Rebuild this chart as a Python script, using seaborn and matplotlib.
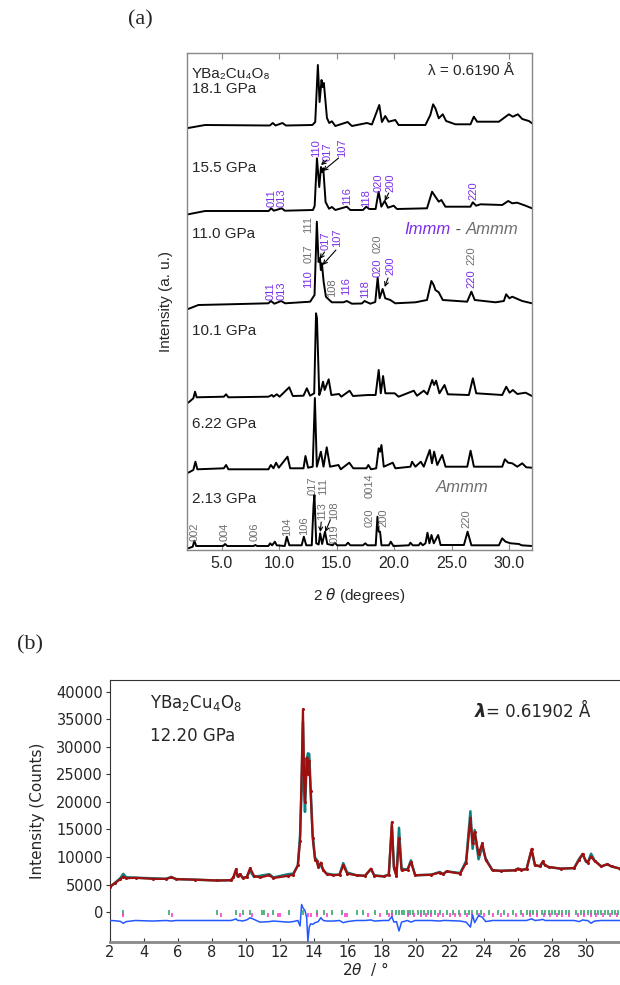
import numpy as np
import pandas as pd
import matplotlib
matplotlib.use("Agg")
import matplotlib.pyplot as plt
import seaborn as sns

# Panel (a): stacked patterns, (2theta, intensity above the pattern's own baseline)

P_181 = [(2.1, -1), (3.57, 2), (9.2, 1.5), (9.46, 4), (9.7, 1.5), (10.3, 4), (10.6, 1.5),
         (12.9, 2), (13.15, 5), (13.38, 62), (13.53, 25), (13.7, 47), (13.79, 40), (13.9, 44),
         (14.17, 9), (14.37, 4), (14.6, 5.7), (14.9, 1), (15.97, 5), (16.34, 1), (17.65, 4),
         (18.08, 2.5), (18.72, 22), (18.95, 5), (19.24, 11), (19.53, 5.3), (20.11, 7), (20.4, 2),
         (22.73, 2), (23.16, 12), (23.4, 22.7), (23.6, 18.7), (23.89, 8.7), (24.24, 12.7),
         (24.53, 6), (25.34, 2.7), (26.65, 2.7), (26.94, 10.3), (27.23, 5.3), (29.12, 5.3),
         (29.99, 12.7), (30.33, 10.3), (30.77, 12.7), (31.15, 8), (31.73, 6), (32.0, 3.7)]

P_155 = [(2.1, -2.3), (3.57, 1), (9.1, 1), (9.32, 3.7), (9.55, 1.3), (10.25, 3.7), (10.5, 1.3),
         (12.95, 2), (13.1, 6), (13.3, 53.7), (13.5, 25), (13.65, 45), (13.75, 40), (13.85, 43.7),
         (14.05, 10), (14.35, 3.3), (14.6, 5), (14.9, 2), (15.9, 5.3), (16.2, 2), (17.3, 2),
         (17.59, 5.3), (17.85, 3), (18.4, 3), (18.66, 20.3), (18.9, 5.3), (19.19, 11), (19.48, 4.3),
         (19.97, 6.3), (20.26, 3), (22.87, 3.7), (23.31, 20.3), (23.6, 15.3), (23.89, 10.3),
         (24.12, 12), (24.47, 5.3), (26.65, 5.3), (26.85, 9.7), (27.14, 6.3), (27.52, 7.7),
         (29.41, 7), (29.93, 11), (30.28, 8.7), (30.71, 9.3), (31.44, 6.3), (32.0, 3.7)]

P_110 = [(2.1, -4), (2.99, 0), (5.6, 0.7), (9.08, 1.7), (9.3, 4), (9.6, 1.3), (10.19, 4), (10.53, 1.7),
         (12.71, 3.3), (13.09, 10), (13.29, 83.3), (13.44, 43), (13.56, 46.7), (13.64, 35),
         (13.73, 41.7), (13.88, 23.3), (14.08, 8.3), (14.37, 5), (14.6, 2.7), (15.6, 2.7), (15.9, 4),
         (16.34, 1.3), (17.2, 1.5), (17.44, 4), (17.94, 1.3), (18.37, 3), (18.58, 27.3), (18.75, 6.7),
         (19.01, 16), (19.24, 6.7), (19.68, 5), (20.11, 1.7), (21.86, 2.7), (22.87, 5), (23.25, 24),
         (23.45, 20), (23.6, 15), (23.89, 12.7), (24.24, 5), (26.36, 3.3), (26.73, 13.3), (27.02, 5),
         (28.83, 2.7), (29.55, 4), (29.75, 10.7), (30.04, 6.7), (30.28, 8.3), (31.15, 4), (32.0, 1.7)]

P_101 = [(2.11, -4.7), (2.55, -0.3), (2.7, 6.3), (2.84, 0.7), (5.2, 1.3), (5.4, 3.7), (5.6, 0.7),
         (9.08, 1.3), (9.38, 3), (9.52, 1.3), (9.81, 3.7), (10.05, 1.3), (10.89, 10.7), (11.2, 2),
         (12.13, 2.3), (12.42, 9.7), (12.7, 2.3), (13.06, 4.7), (13.22, 84.7), (13.3, 80), (13.5, 3),
         (13.65, 8), (13.83, 16.3), (13.97, 8), (14.32, 18.7), (14.55, 3), (15.22, 4), (15.42, 1.3),
         (16.14, 7.3), (16.43, 2), (17.74, 3), (18.4, 3), (18.67, 28), (18.85, 4.7), (19.05, 22),
         (19.25, 4.7), (20.06, 4.7), (20.4, 1.3), (21.72, 7.3), (22.0, 2.3), (22.59, 7.3), (22.9, 3.7),
         (23.32, 18), (23.49, 13), (23.66, 17.3), (23.95, 4.7), (24.39, 13), (24.68, 3.7), (26.51, 3),
         (26.86, 19.7), (27.15, 4.7), (29.41, 3), (29.76, 11.3), (30.05, 5.3), (30.34, 8), (30.72, 4),
         (31.44, 5.3), (32.0, 2)]

P_622 = [(2.11, -2.7), (2.55, 0), (2.73, 8.3), (2.9, 0.7), (5.2, 1.7), (5.4, 5), (5.6, 0.7),
         (9.08, 0.7), (9.29, 5), (9.52, 1.7), (9.75, 7.3), (9.98, 2.3), (10.74, 13.3), (10.97, 1.7),
         (12.13, 1.7), (12.3, 14), (12.53, 2.3), (12.93, 3.3), (13.12, 72), (13.29, 3.3), (13.64, 18.3),
         (13.87, 3.3), (14.15, 22.7), (14.44, 3.3), (15.17, 5), (15.37, 0.7), (16.11, 7.3), (16.46, 1.7),
         (17.6, 1.7), (17.77, 5), (18.0, 0.7), (18.45, 1.7), (18.67, 21.7), (18.79, 18.3), (18.91, 25),
         (19.11, 3.3), (19.89, 7.3), (20.12, 1.7), (21.43, 3.3), (21.57, 8.3), (21.86, 3.3),
         (22.33, 8.3), (22.59, 3.3), (23.11, 20), (23.3, 6.7), (23.49, 18.3), (23.76, 5), (24.19, 15),
         (24.48, 3.3), (26.37, 3.3), (26.66, 19.3), (26.95, 3.3), (29.41, 3.3), (29.64, 10.7),
         (29.93, 7.3), (30.28, 6.7), (30.72, 3.3), (31.15, 6.7), (31.5, 2.7), (32.0, 2.3)]

P_213 = [(2.11, -2.3), (2.5, -0.7), (2.64, 5.3), (2.8, 0), (5.15, 0), (5.31, 2), (5.5, 0),
         (7.8, 0), (7.93, 1), (8.1, 0), (9.08, 0), (9.23, 2.7), (9.4, 0.7), (9.64, 4.3), (9.8, 0.7),
         (10.5, 0), (10.68, 9.3), (10.9, 0.7), (11.97, 0.7), (12.16, 9.3), (12.37, 0.7), (12.85, 0.7),
         (13.0, 40), (13.08, 51), (13.24, 2.7), (13.45, 1.5), (13.58, 12.7), (13.75, 2), (14.0, 14.3),
         (14.2, 2), (14.66, 0.7), (14.86, 3.3), (15.05, 0.7), (15.8, 0.7), (16.0, 3.3), (16.2, 0.7),
         (17.3, 0.7), (17.5, 2.7), (17.7, 0.7), (18.41, 0.7), (18.56, 29.3), (18.67, 14.3),
         (18.79, 14.3), (18.91, 0.7), (19.55, 0.7), (19.72, 4.3), (19.95, 0), (21.29, 0.7),
         (21.43, 3.3), (21.63, 0.7), (22.15, 0.7), (22.3, 3.3), (22.5, 0.7), (22.74, 2.7),
         (22.91, 13.3), (23.08, 2.7), (23.26, 11), (23.46, 2.7), (23.84, 11), (24.05, 1), (26.08, 1),
         (26.4, 14.3), (26.73, 0.7), (29.12, 0.7), (29.41, 7.7), (29.7, 4.3), (30.14, 2.7),
         (30.86, 2), (31.1, 0.7), (32.0, 0)]

PATTERNS = [P_181, P_155, P_110, P_101, P_622, P_213]
PRESSURES = ["18.1 GPa", "15.5 GPa", "11.0 GPa", "10.1 GPa", "6.22 GPa", "2.13 GPa"]

# Panel (b): Rietveld fit at 12.20 GPa
B_TTH = [2.0, 2.3, 2.6, 2.78, 2.95, 3.5, 4.5, 5.3, 5.6, 5.9, 7.0, 8.3, 9.1, 9.25, 9.41, 9.51, 9.65,
         9.8, 10.04, 10.24, 10.47, 10.82, 11.37, 11.61, 12.49, 12.78, 13.05, 13.18, 13.27, 13.35,
         13.42, 13.47, 13.57, 13.64, 13.72, 13.8, 13.92, 14.06, 14.16, 14.25, 14.4, 14.55, 14.75,
         15.14, 15.5, 15.72, 15.95, 16.5, 17.0, 17.35, 17.55, 18.1, 18.4, 18.58, 18.7, 18.85, 19.0,
         19.15, 19.5, 19.7, 19.95, 20.9, 21.4, 21.6, 21.8, 22.6, 22.95, 23.2, 23.33, 23.45, 23.68,
         23.9, 24.1, 24.5, 25.0, 25.8, 26.0, 26.2, 26.5, 26.8, 27.0, 27.3, 27.45, 27.6, 27.8, 28.5,
         29.3, 29.6, 29.8, 30.0, 30.1, 30.3, 30.5, 30.9, 31.25, 31.5, 32.0]
B_OBS = [4600, 5300, 6000, 6450, 6150, 6250, 6050, 6050, 6300, 6000, 5900, 5750, 5800, 6300, 7800,
         6500, 6900, 6200, 6400, 8000, 6600, 6300, 6700, 6200, 6600, 6800, 8500, 13000, 25000, 36800,
         24000, 20000, 28000, 25000, 27500, 22000, 13500, 9500, 9200, 8200, 9000, 7600, 6900,
         6700, 6800, 8500, 7000, 6700, 6600, 7900, 6600, 6500, 6800, 16300, 8000, 6500, 13400,
         7600, 7700, 9100, 6700, 6800, 7200, 6900, 7400, 7000, 9000, 17100, 12500, 14500, 10500,
         12500, 9500, 7600, 7500, 7600, 7900, 7700, 7800, 11500, 8500, 8400, 9200, 8500, 8200, 7900,
         8000, 9500, 10600, 9200, 9000, 10100, 9300, 8300, 8700, 8300, 7900]
B_DIFF = [0, -50, -150, -500, -200, 0, -100, 0, -100, 0, 0, 0, 0, 100, 300, 0, 0, -100, 100, 500,
          200, -300, -200, -100, -300, -200, 0, -1000, 2900, 2300, 2000, 1800, 500, -3800, -1200,
          -600, -700, -400, -300, -200, 500, 0, -100, -100, 0, -400, -200, 0, 0, 100, -100, 0, 0,
          700, -300, -200, -1900, -300, 0, -300, 0, 0, -100, 0, 0, -100, -300, -1200, 1000, -400,
          900, 600, -200, 0, 0, 0, 0, 0, 0, 300, 0, 100, 200, 0, 0, 0, 0, -200, 100, 0, 0, -500,
          -100, 0, 0, 0, 0]

TICKS_GREEN = [2.75, 5.49, 8.27, 9.41, 9.8, 10.24, 10.92, 11.08, 11.61, 12.55, 13.37, 14.2, 14.59,
               15.08, 15.63, 16.51, 16.9, 17.6, 18.3, 18.6, 18.85, 19.0, 19.2, 19.3, 19.5, 19.65,
               19.8, 20.1, 20.3, 20.45, 20.7, 20.9, 21.1, 21.4, 21.8, 22.2, 22.5, 22.9, 23.1, 23.3,
               23.6, 23.85, 24.3, 24.8, 25.2, 25.7, 26.2, 26.5, 26.7, 26.9, 27.1, 27.4, 27.6, 27.8,
               28.0, 28.2, 28.4, 28.6, 28.8, 29.0, 29.4, 29.7, 29.9, 30.1, 30.3, 30.5, 30.7, 30.9,
               31.1, 31.3, 31.5, 31.7, 31.9]
TICKS_MAGENTA = [2.78, 5.63, 8.51, 9.65, 10.33, 11.31, 11.9, 12.0, 13.67, 13.8, 14.2, 14.75, 15.84,
                 15.96, 17.2, 17.9, 18.4, 18.6, 19.5, 19.9, 20.3, 20.6, 20.9, 21.3, 21.6, 22.0,
                 22.3, 22.6, 23.0, 23.3, 23.7, 24.0, 24.5, 25.0, 25.4, 25.9, 26.3, 26.7, 27.1,
                 27.5, 27.9, 28.3, 28.6, 29.0, 29.5, 29.9, 30.3, 30.6, 31.0, 31.4, 31.8]

PURPLE = "#7b2fe6"
GRAY = "#6f6f6f"

sns.set_style("ticks")
plt.rcParams["font.family"] = ["Liberation Sans", "DejaVu Sans"]

fig = plt.figure(figsize=(6.2, 9.85), dpi=100)
ax = fig.add_axes([187 / 620, 1 - 550 / 985, 345 / 620, 497 / 985])
axb = fig.add_axes([110 / 620, 1 - 942 / 985, 510 / 620, 262 / 985])

# ---------- panel (a) ----------
stack_offset = [423, 338, 245, 152, 80, 4]
label_y = [461, 382, 316, 219, 126, 51]
for pts, off, name, ly in zip(PATTERNS, stack_offset, PRESSURES, label_y):
    tth, inten = zip(*pts)
    df = pd.DataFrame({"tth": tth, "I": np.array(inten) + off})
    sns.lineplot(data=df, x="tth", y="I", ax=ax, color="black", lw=1.4,
                 sort=False, estimator=None, legend=False)
    ax.text(2.44, ly, name, fontsize=11, va="center", ha="left")

ax.text(2.44, 476, "YBa₂Cu₄O₈", fontsize=11, va="center", ha="left")
ax.text(30.4, 479, "λ = 0.6190 Å", fontsize=11, va="center", ha="right")

t_am = ax.text(30.83, 320, "Ammm", fontsize=12, style="italic", color=GRAY, ha="right", va="center")
t_dash = ax.annotate(" - ", xy=(0, 0), xycoords=t_am, fontsize=12, color="#444444",
                     ha="right", va="bottom")
ax.annotate("Immm", xy=(0, 0), xycoords=t_dash, fontsize=12, style="italic", color=PURPLE,
            ha="right", va="bottom")
ax.text(28.2, 62.5, "Ammm", fontsize=12, style="italic", color=GRAY, ha="right", va="center")

# hkl labels: (text, 2theta, bottom of label, colour)
hkl = [
    ("011", 9.32, 343, PURPLE), ("013", 10.25, 343, PURPLE), ("110", 13.25, 393, PURPLE),
    ("017", 14.2, 389, PURPLE), ("107", 15.47, 393, PURPLE), ("116", 15.91, 345, PURPLE),
    ("118", 17.59, 343, PURPLE), ("020", 18.7, 358, PURPLE), ("200", 19.68, 358, PURPLE),
    ("220", 26.89, 350, PURPLE),
    ("011", 9.23, 250, PURPLE), ("013", 10.25, 250, PURPLE), ("110", 12.57, 262, PURPLE),
    ("017", 12.57, 287, GRAY), ("111", 12.57, 317, GRAY), ("017", 14.02, 300, PURPLE),
    ("107", 15.04, 303, PURPLE), ("108", 14.6, 253, GRAY), ("116", 15.85, 255, PURPLE),
    ("118", 17.5, 252, PURPLE), ("020", 18.61, 273, PURPLE), ("020", 18.61, 297, GRAY),
    ("200", 19.68, 275, PURPLE), ("220", 26.74, 262, PURPLE), ("220", 26.74, 285, GRAY),
    ("002", 2.64, 9.3, GRAY), ("004", 5.31, 9.3, GRAY), ("006", 7.92, 9.3, GRAY),
    ("104", 10.68, 14, GRAY), ("106", 12.19, 15, GRAY), ("017", 12.92, 55, GRAY),
    ("111", 13.85, 55, GRAY), ("113", 13.73, 30, GRAY), ("108", 14.8, 30, GRAY),
    ("019", 14.8, 7, GRAY), ("0014", 17.88, 52, GRAY), ("020", 17.88, 23, GRAY),
    ("200", 19.1, 23, GRAY), ("220", 26.3, 22, GRAY),
]
for s, x, y, c in hkl:
    ax.text(x, y, s, rotation=90, fontsize=8, color=c, ha="center", va="bottom")

arrows = [((14.17, 390), (13.65, 385)), ((15.18, 392), (13.82, 379)), ((19.54, 357), (19.19, 349)),
          ((13.96, 298), (13.53, 291)), ((14.95, 300), (13.79, 285)), ((19.48, 272), (19.19, 263)),
          ((13.67, 28), (13.59, 18)), ((14.46, 30), (14.02, 18))]
for tail, head in arrows:
    ax.annotate("", xy=head, xytext=tail,
                arrowprops=dict(arrowstyle="->", lw=0.8, color="black",
                                shrinkA=0, shrinkB=0, mutation_scale=7))

ax.set_xlim(2, 32)
ax.set_ylim(0, 497)
ax.set_yticks([])
ax.set_xticks([5, 10, 15, 20, 25, 30])
ax.set_xticklabels(["5.0", "10.0", "15.0", "20.0", "25.0", "30.0"])
ax.tick_params(axis="x", direction="in", top=True, length=4, color="#888888",
               labelsize=11.5, pad=4)
for sp in ax.spines.values():
    sp.set_visible(True)
    sp.set_color("#888888")
    sp.set_linewidth(1)
ax.set_xlabel("2 $\\theta$ (degrees)", fontsize=11, labelpad=11)
ax.set_ylabel("Intensity (a. u.)", fontsize=11, labelpad=10)

fig.text(140 / 620, 1 - 20 / 985, "(a)", family="Liberation Serif", fontsize=16,
         ha="center", va="center")
fig.text(30 / 620, 1 - 645 / 985, "(b)", family="Liberation Serif", fontsize=16,
         ha="center", va="center")

# ---------- panel (b) ----------
obs = np.array(B_OBS, dtype=float)
diff = np.array(B_DIFF, dtype=float)
dfb = pd.DataFrame({"tth": B_TTH, "obs": obs, "calc": obs - diff, "diff": diff - 1500})

sns.lineplot(data=dfb, x="tth", y="calc", ax=axb, color="#0e8080", lw=1.8,
             sort=False, estimator=None, legend=False, zorder=2)
sns.lineplot(data=dfb, x="tth", y="obs", ax=axb, color="#a00f0f", lw=1.6,
             sort=False, estimator=None, legend=False, zorder=3,
             marker="o", markersize=2.2, markeredgewidth=0)
sns.lineplot(data=dfb, x="tth", y="diff", ax=axb, color="#2458ff", lw=1.1,
             sort=False, estimator=None, legend=False, zorder=3)
axb.vlines(TICKS_GREEN, -500, 400, color="#23a05f", lw=1.1, zorder=2)
axb.vlines(TICKS_MAGENTA, -850, -80, color="#ff2fc8", lw=1.1, zorder=2)

axb.set_xlim(2, 32)
axb.set_ylim(-5400, 42100)
axb.set_xticks(range(2, 31, 2))
axb.set_yticks(range(0, 40001, 5000))
axb.tick_params(axis="y", direction="out", length=3, labelsize=10.5, pad=2, color="#333333")
axb.tick_params(axis="x", direction="in", length=3, labelsize=10.5, pad=2, color="#333333")
for lab in axb.get_xticklabels() + axb.get_yticklabels():
    lab.set_family("DejaVu Sans")
axb.spines["right"].set_visible(False)
axb.spines["top"].set_visible(True)
axb.spines["top"].set_color("#333333")
axb.spines["left"].set_color("#333333")
axb.spines["bottom"].set_color("#8a8a8a")
axb.spines["bottom"].set_linewidth(2)
axb.set_xlabel("2$\\theta$  / °", fontsize=11, family="DejaVu Sans", labelpad=0)
axb.set_ylabel("Intensity (Counts)", fontsize=11, family="DejaVu Sans", labelpad=8)

axb.text(4.35, 37950, "YBa$_2$Cu$_4$O$_8$", fontsize=12, family="DejaVu Sans",
         ha="left", va="center")
axb.text(4.35, 32000, "12.20 GPa", fontsize=12, family="DejaVu Sans", ha="left", va="center")
t_lam = axb.text(23.47, 36330, "λ", fontsize=13, family="DejaVu Sans", fontweight="bold",
                 style="italic", ha="left", va="center")
axb.annotate("= 0.61902 Å", xy=(1, 0), xycoords=t_lam, fontsize=12, family="DejaVu Sans",
             ha="left", va="bottom")

fig.savefig("out.png", dpi=100)
